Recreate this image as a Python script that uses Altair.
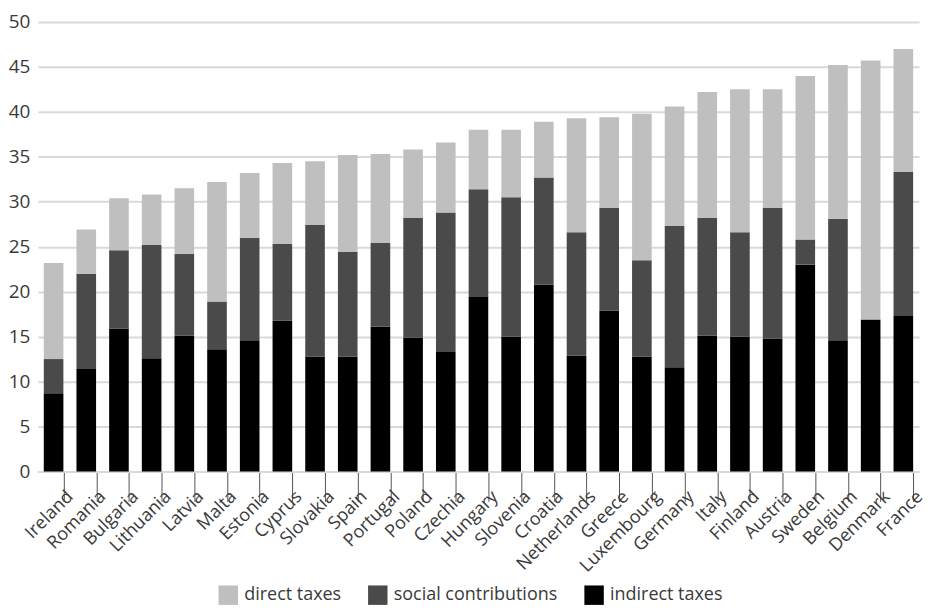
import altair as alt
import pandas as pd

countries = ["Ireland", "Romania", "Bulgaria", "Lithuania", "Latvia", "Malta", "Estonia",
             "Cyprus", "Slovakia", "Spain", "Portugal", "Poland", "Czechia", "Hungary",
             "Slovenia", "Croatia", "Netherlands", "Greece", "Luxembourg", "Germany",
             "Italy", "Finland", "Austria", "Sweden", "Belgium", "Denmark", "France"]
indirect = [8.7, 11.4, 15.9, 12.6, 15.1, 13.6, 14.6, 16.8, 12.8, 12.8, 16.1, 14.9, 13.3, 19.4,
            15.0, 20.8, 12.9, 17.9, 12.8, 11.6, 15.1, 15.0, 14.8, 23.0, 14.6, 16.9, 17.3]
social = [3.8, 10.6, 8.7, 12.6, 9.1, 5.3, 11.4, 8.5, 14.6, 11.6, 9.3, 13.3, 15.5, 12.0,
          15.5, 11.9, 13.7, 11.4, 10.7, 15.7, 13.1, 11.6, 14.5, 2.8, 13.5, 0.0, 16.0]
direct = [10.7, 4.9, 5.8, 5.6, 7.3, 13.3, 7.2, 9.0, 7.1, 10.8, 9.9, 7.6, 7.8, 6.6,
          7.5, 6.2, 12.7, 10.1, 16.3, 13.3, 14.0, 15.9, 13.2, 18.2, 17.1, 28.8, 13.7]

series_names = ["direct taxes", "social contributions", "indirect taxes"]
series_colors = ["#bfbfbf", "#4a4a4a", "#000000"]
y_ticks = [0, 5, 10, 15, 20, 25, 30, 35, 40, 45, 50]

rows = []
for i, c in enumerate(countries):
    rows.append({"country": c, "type": "indirect taxes", "value": indirect[i], "ord": 0})
    rows.append({"country": c, "type": "social contributions", "value": social[i], "ord": 1})
    rows.append({"country": c, "type": "direct taxes", "value": direct[i], "ord": 2})
df = pd.DataFrame(rows)

FONT = "Open Sans"
TXT = "#3a3a3a"

chart = alt.Chart(df).mark_bar().encode(
    x=alt.X("country:N", sort=countries,
            scale=alt.Scale(paddingInner=0.4, paddingOuter=0.18),
            axis=alt.Axis(title=None, labelAngle=-45, labelFontSize=18, labelColor=TXT,
                          labelFont=FONT, domainColor="#d9d9d9", domainWidth=2,
                          ticks=True, tickColor="#555555", tickSize=30, tickWidth=1,
                          tickOpacity=1, tickOffset=10, labelPadding=-14)),
    y=alt.Y("value:Q", stack="zero",
            scale=alt.Scale(domain=[0, 50], nice=False),
            axis=alt.Axis(title=None, values=y_ticks, domain=False, ticks=False,
                          gridColor="#d9d9d9", gridWidth=2, labelFontSize=19,
                          labelColor=TXT, labelFont=FONT, labelPadding=8)),
    color=alt.Color("type:N",
                    scale=alt.Scale(domain=series_names, range=series_colors),
                    legend=alt.Legend(title=None, orient="none", direction="horizontal",
                                      legendX=181, legendY=565,
                                      symbolType="square", symbolSize=380,
                                      symbolStrokeWidth=0, labelFontSize=18,
                                      labelFont=FONT, labelColor=TXT, labelOffset=6,
                                      columnPadding=26, labelLimit=400)),
    order=alt.Order("ord:Q", sort="ascending"),
).properties(
    width=884, height=451, padding={"left": 0, "top": 4, "right": 0, "bottom": 0}
).configure_view(stroke=None)

chart.save("out.html", embed_options={"renderer": "svg", "actions": False})
